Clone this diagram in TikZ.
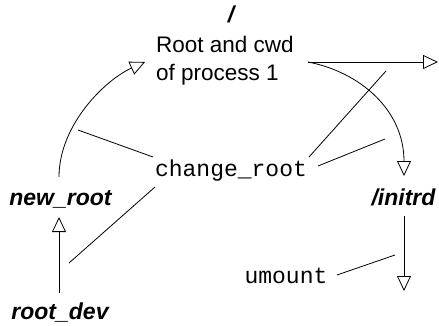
\documentclass[tikz,border=0pt]{standalone}
\usepackage{fontspec}
\setmainfont{Liberation Sans}
\setmonofont{Liberation Mono}
\usetikzlibrary{arrows.meta}
\tikzset{
  lbl/.style={font=\fontsize{22.5}{28}\selectfont, inner sep=0pt},
  blbl/.style={font=\fontsize{23}{28}\selectfont\bfseries\itshape, inner sep=0pt},
  mono/.style={font=\fontsize{23}{28}\selectfont\ttfamily, inner sep=0pt},
  ln/.style={line width=0.8pt},
  arr/.style={ln, -{Triangle[open, length=15pt, width=14pt]}},
}
\begin{document}
\begin{tikzpicture}[x=1pt, y=-1pt]
\useasboundingbox (0,0) rectangle (439,326);
% nodes
\node[blbl, anchor=base] (slash) at (231,23) {/};
\node[lbl, anchor=base west, align=left] (proc) at (156,81) {Root and cwd\\of process 1};
\node[mono, anchor=base] (chroot) at (231,176) {change\_root};
\node[blbl, anchor=base] (newroot) at (60.5,205) {new\_root};
\node[blbl, anchor=base] (initrd) at (403.5,205) {/initrd};
\node[mono, anchor=base] (umount) at (286,283) {umount};
\node[blbl, anchor=base] (rootdev) at (60,319) {root\_dev};
% free ends
\coordinate (nrTop) at (59,177);
\coordinate (procIn) at (145,62);
\coordinate (procOut) at (308,62);
\coordinate (rightEnd) at (438,62);
\coordinate (initTop) at (404,176);
\coordinate (initBot) at (404,216);
\coordinate (initEnd) at (404,291);
\coordinate (rdTop) at (59,293);
\coordinate (nrBot) at (59,217);
\coordinate (a1) at (78,130);   \coordinate (b1) at (153,157);
\coordinate (a2) at (309,157);  \coordinate (b2) at (386,71);
\coordinate (a3) at (318,166);  \coordinate (b3) at (385,139);
\coordinate (a4) at (155,187);  \coordinate (b4) at (69,263);
\coordinate (a5) at (337,275);  \coordinate (b5) at (395,255);
% connectors
\draw[arr] (nrTop) .. controls (59,125) and (105,80) .. (procIn);
\draw[arr] (procOut) -- (rightEnd);
\draw[arr] (procOut) .. controls (360,72) and (404,110) .. (initTop);
\draw[arr] (rdTop) -- (nrBot);
\draw[arr] (initBot) -- (initEnd);
\draw[ln] (b1) -- (a1);
\draw[ln] (a2) -- (b2);
\draw[ln] (a3) -- (b3);
\draw[ln] (a4) -- (b4);
\draw[ln] (a5) -- (b5);
\end{tikzpicture}
\end{document}
